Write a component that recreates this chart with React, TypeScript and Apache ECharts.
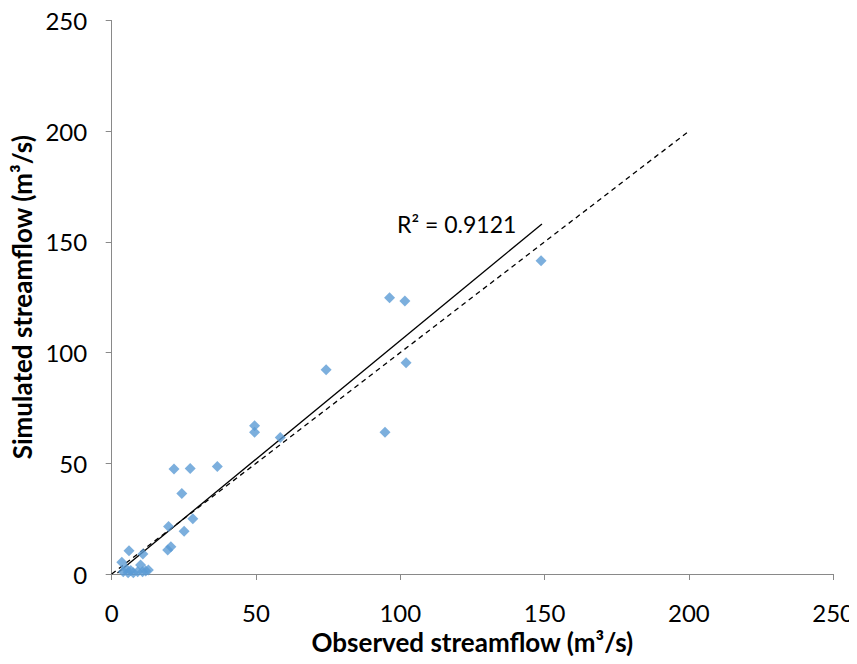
import React, { useEffect, useRef } from "react";
import * as echarts from "echarts";

const observed: number[] = [148.8, 96.3, 101.6, 102.0, 74.3, 94.7, 49.5, 49.5, 58.4, 21.6, 27.2, 36.6, 24.3, 28.1, 19.7, 25.1, 20.5, 19.4, 6.0, 10.8, 3.5, 10.0, 11.8, 4.0, 5.7, 7.5, 9.0, 10.7, 12.7, 5.0, 6.6];
const simulated: number[] = [141.5, 124.8, 123.3, 95.4, 92.3, 64.0, 67.0, 64.0, 61.6, 47.4, 47.7, 48.6, 36.4, 25.0, 21.4, 19.3, 12.3, 10.8, 10.5, 9.0, 5.3, 4.1, 1.4, 1.0, 0.6, 0.6, 1.0, 1.0, 1.8, 2.4, 1.6];
const trendX: number[] = [2.0, 149.1];
const trendY: number[] = [0.4, 158.1];
const oneToOneX: number[] = [0, 200];
const oneToOneY: number[] = [0, 200];
const r2Label = "R² = 0.9121";
const axisTicks = { min: 0, max: 250, interval: 50 };

export default function App() {
  const ref = useRef<HTMLDivElement>(null);
  useEffect(() => {
    if (!ref.current) return;
    const chart = echarts.init(ref.current, null, { renderer: "svg" });
    const font = "Lato, 'Open Sans', sans-serif";
    const axisCommon = {
      type: "value" as const,
      min: axisTicks.min,
      max: axisTicks.max,
      interval: axisTicks.interval,
      splitLine: { show: false },
      axisLine: { show: true, lineStyle: { color: "#898989", width: 1 } },
      axisTick: { show: true, length: 6, lineStyle: { color: "#898989" } },
      nameLocation: "middle" as const,
      nameTextStyle: { fontFamily: font, fontSize: 26, fontWeight: "bold" as const, color: "#000" },
    };
    chart.setOption({
      animation: false,
      grid: { left: 111.7, right: 22, top: 20.5, bottom: 90, containLabel: false },
      xAxis: {
        ...axisCommon,
        name: "Observed streamflow (m³/s)",
        nameGap: 55,
        axisLabel: { fontFamily: font, fontSize: 24, color: "#000", margin: 26 },
      },
      yAxis: {
        ...axisCommon,
        name: "Simulated streamflow (m³/s)",
        nameGap: 72,
        axisLabel: { fontFamily: font, fontSize: 24, color: "#000", margin: 24.5 },
      },
      series: [
        {
          type: "line",
          data: oneToOneX.map((x, i) => [x, oneToOneY[i]]),
          symbol: "none",
          lineStyle: { color: "#000", width: 1.3, type: [5, 4] },
          z: 2,
        },
        {
          type: "line",
          data: trendX.map((x, i) => [x, trendY[i]]),
          symbol: "none",
          lineStyle: { color: "#000", width: 1.3 },
          z: 3,
        },
        {
          type: "scatter",
          data: observed.map((x, i) => [x, simulated[i]]),
          symbol: "diamond",
          symbolSize: 11,
          itemStyle: { color: "#5B9BD5" },
          z: 4,
        },
      ],
      graphic: [
        {
          type: "text",
          left: 397,
          top: 212,
          style: { text: r2Label, fontFamily: font, fontSize: 23, fill: "#000" },
        },
      ],
    });
    return () => chart.dispose();
  }, []);
  return <div ref={ref} style={{ width: 857, height: 664, margin: -8 }} />;
}
